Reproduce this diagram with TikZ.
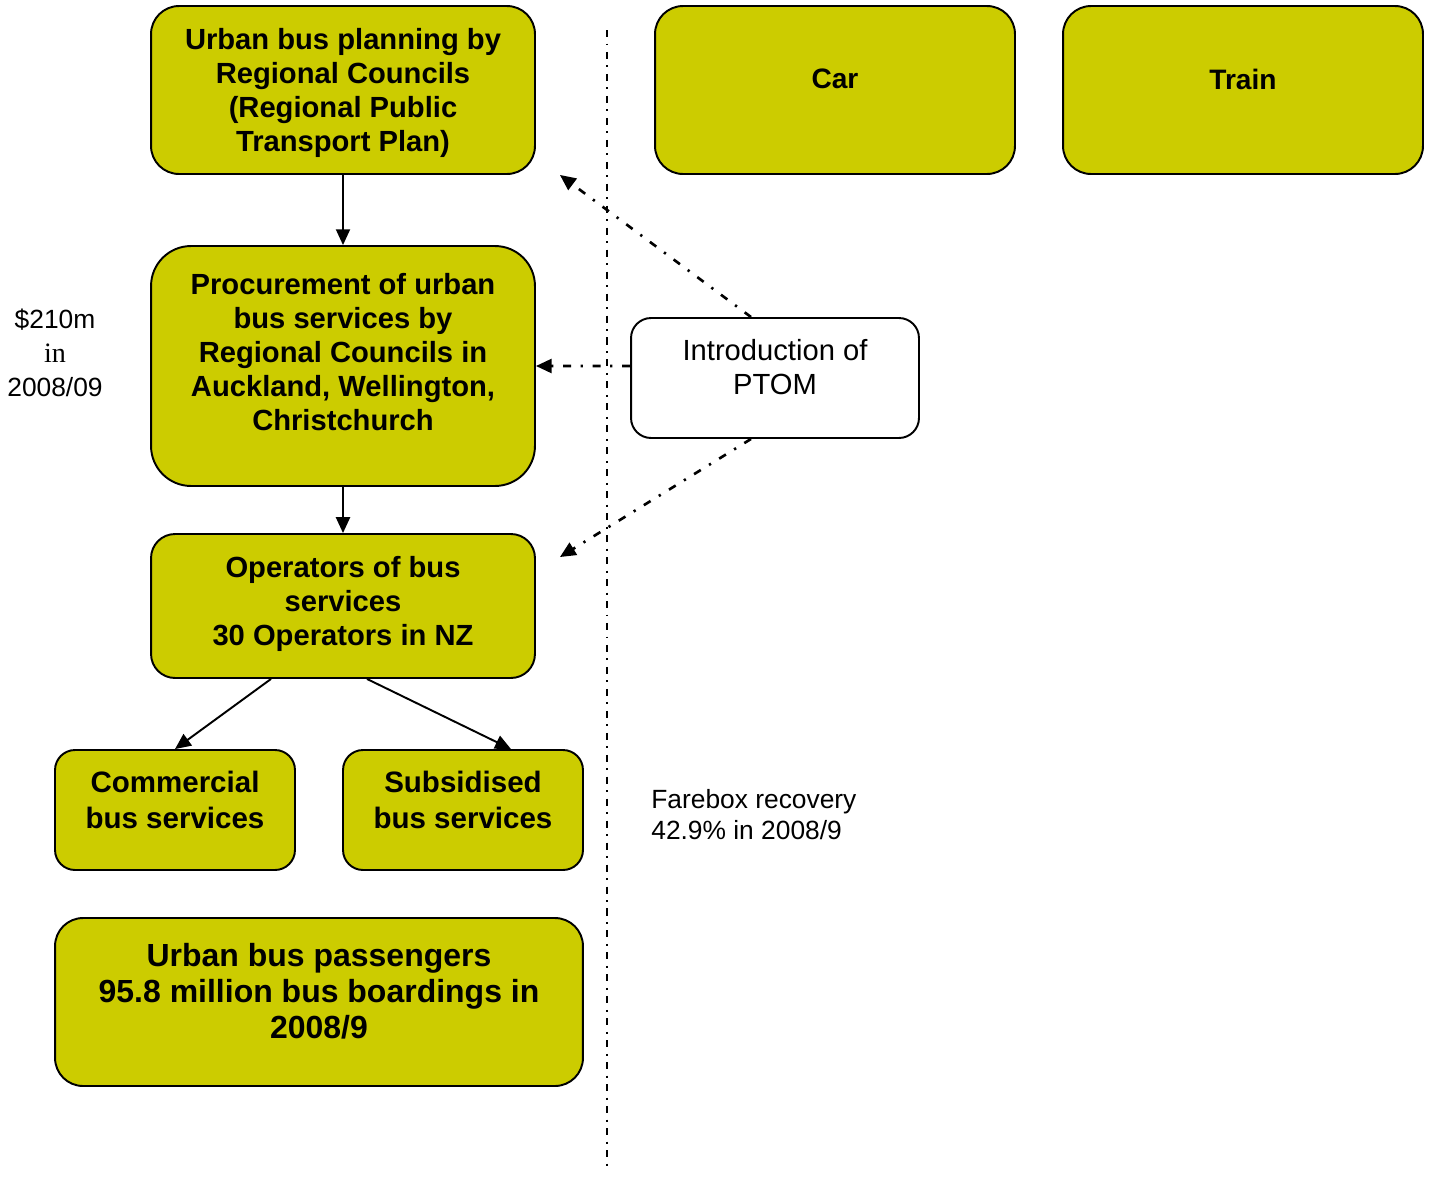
\documentclass[tikz,border=0pt]{standalone}
\usepackage{fontspec}
\setmainfont{Liberation Sans}
\newfontfamily\timesfont{Liberation Serif}
\usetikzlibrary{positioning,arrows.meta}
\definecolor{busyellow}{RGB}{204,204,0}

\begin{document}
\begin{tikzpicture}[
  x=0.02cm, y=-0.02cm,
  font=\fontsize{16.6}{19.3}\selectfont,
  block/.style={draw, line width=1.1pt, fill=busyellow, inner sep=0pt},
  boxtext/.style={align=center, inner sep=0pt, font=\fontsize{16.6}{19.3}\selectfont\bfseries},
  plaintext/.style={align=center, inner sep=0pt},
  note/.style={align=left, inner sep=0pt, font=\fontsize{15}{17.6}\selectfont},
  arrow/.style={-{Triangle[length=9pt,width=8pt]}, line width=1.1pt},
  ptomarrow/.style={arrow, line width=1.5pt, dash pattern=on 4.5pt off 5.5pt on 1.3pt off 5.5pt},
  divider/.style={line width=1.4pt, dash pattern=on 4pt off 3.7pt on 1.1pt off 3.7pt}
]
\useasboundingbox (0,0) rectangle (1434,1177);

% left column: bus chain
\node[block, minimum width=7.68cm, minimum height=3.36cm, rounded corners=0.56cm] (planning) at (343,90) {};
\node[boxtext] (planningtext) at ([yshift=-0.06cm]planning) {Urban bus planning by\\Regional Councils\\(Regional Public\\Transport Plan)};
\node[block, minimum width=7.68cm, minimum height=4.8cm, rounded corners=0.8cm] (procure) at (343,366) {};
\node[boxtext] (procuretext) at ([yshift=0.28cm]procure) {Procurement of urban\\bus services by\\Regional Councils in\\Auckland, Wellington,\\Christchurch};
\node[block, minimum width=7.68cm, minimum height=2.88cm, rounded corners=0.48cm] (operators) at (343,606) {};
\node[boxtext] (operatorstext) at ([yshift=0.04cm]operators) {Operators of bus\\services\\30 Operators in NZ};
\node[block, minimum width=4.8cm, minimum height=2.4cm, rounded corners=0.4cm] (commercial) at (175,810) {};
\node[boxtext, font=\fontsize{16.8}{20.4}\selectfont\bfseries] (commercialtext) at ([yshift=0.2cm]commercial) {Commercial\\bus services};
\node[block, minimum width=4.8cm, minimum height=2.4cm, rounded corners=0.4cm] (subsidised) at (463,810) {};
\node[boxtext, font=\fontsize{16.8}{20.4}\selectfont\bfseries] (subsidisedtext) at ([yshift=0.2cm]subsidised) {Subsidised\\bus services};
\node[block, minimum width=10.56cm, minimum height=3.36cm, rounded corners=0.56cm] (passengers) at (319,1002) {};
\node[boxtext, font=\fontsize{18.2}{20.4}\selectfont\bfseries] (passengerstext) at ([yshift=0.22cm]passengers) {Urban bus passengers\\95.8 million bus boardings in\\2008/9};

% right side: other modes
\node[block, minimum width=7.2cm, minimum height=3.36cm, rounded corners=0.56cm] (car) at (835,90) {};
\node[boxtext, font=\fontsize{16}{19.3}\selectfont\bfseries] (cartext) at ([yshift=0.22cm]car) {Car};
\node[block, minimum width=7.2cm, minimum height=3.36cm, rounded corners=0.56cm] (train) at (1243,90) {};
\node[boxtext, font=\fontsize{16}{19.3}\selectfont\bfseries] (traintext) at ([yshift=0.22cm]train) {Train};
\node[block, fill=white, minimum width=5.76cm, minimum height=2.4cm, rounded corners=0.4cm] (ptom) at (775,378) {};
\node[plaintext] (ptomtext) at ([yshift=0.22cm]ptom) {Introduction of\\PTOM};

% notes
\node[note, align=center, font=\fontsize{15}{19.3}\selectfont] (funding) at (55,353) {\$210m\\{\timesfont\fontsize{16}{19.3}\selectfont in}\\2008/09};
\node[note, anchor=west] (farebox) at (651,815) {Farebox recovery\\42.9\% in 2008/9};

% divider
\coordinate (divtop) at (607,30);
\coordinate (divbot) at (607,1172);
\draw[divider] (divtop) -- (divbot);

% flow
\draw[arrow] (planning) -- (procure);
\draw[arrow] (procure) -- (operators);
\draw[arrow] ([xshift=-1.44cm]operators.south) -- (commercial.north);
\draw[arrow] ([xshift=0.48cm]operators.south) -- ([xshift=0.96cm]subsidised.north);

% PTOM influence
\draw[ptomarrow] ([xshift=-0.48cm]ptom.north) -- ([xshift=0.48cm]planning.south east);
\draw[ptomarrow] ([yshift=0.24cm]ptom.west) -- (procure.east);
\draw[ptomarrow] ([xshift=-0.48cm]ptom.south) -- ([shift={(0.48cm,-0.48cm)}]operators.north east);
\end{tikzpicture}
\end{document}
